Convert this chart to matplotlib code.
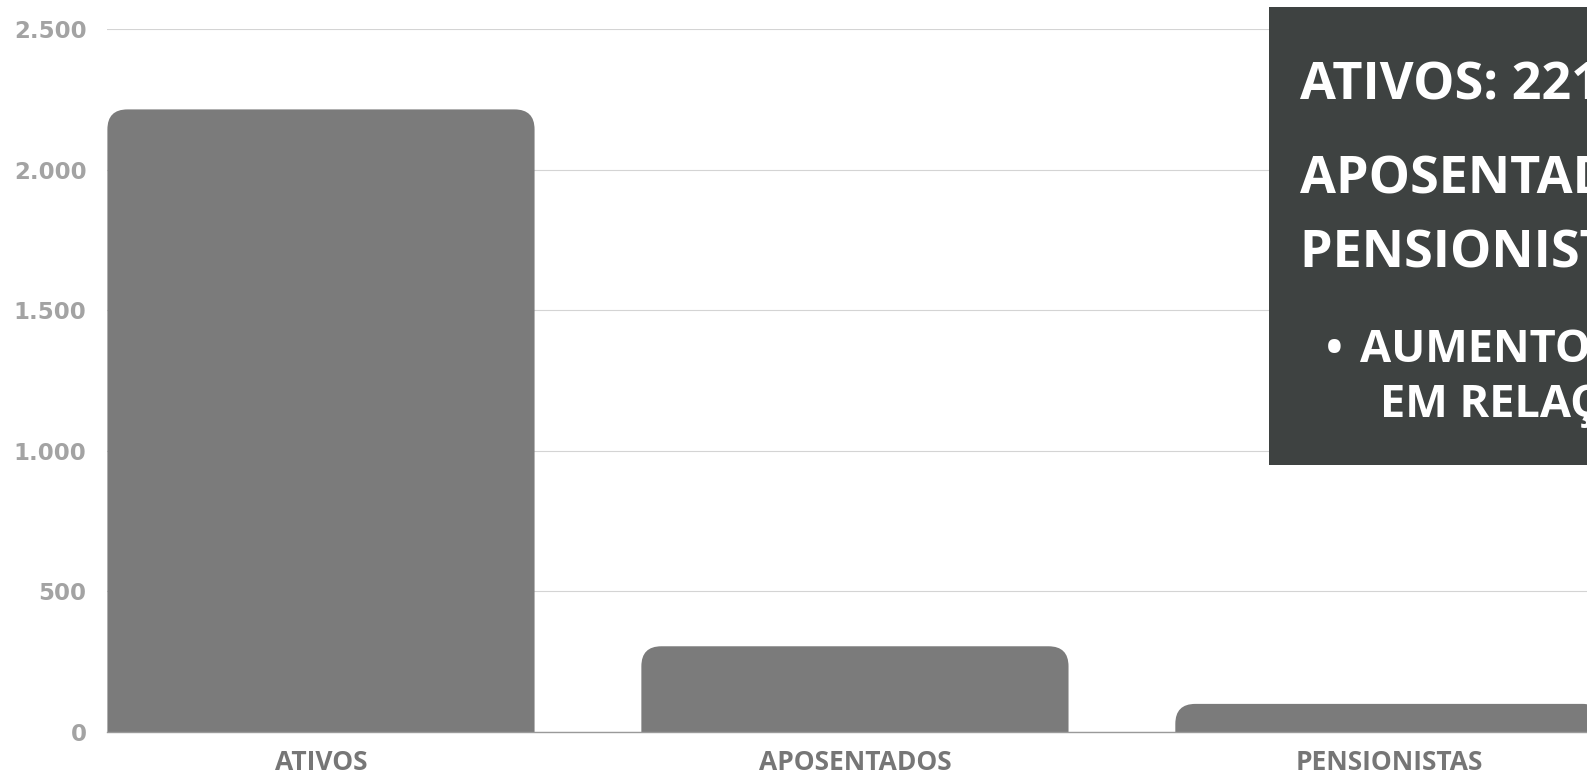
import matplotlib
matplotlib.use("Agg")
import matplotlib.pyplot as plt
from matplotlib.patches import FancyBboxPatch, Rectangle

categories = ["ATIVOS", "APOSENTADOS", "PENSIONISTAS"]
values = [2215, 305, 100]
yticks = [0, 500, 1000, 1500, 2000, 2500]
ytick_labels = ["0", "500", "1.000", "1.500", "2.000", "2.500"]
box_lines = ["ATIVOS: 2215", "APOSENTADOS: 305", "PENSIONISTAS: 100"]
box_bullet = ["AUMENTO DE APOSENTADOS", "EM RELAÇÃO AO ANO ANTERIOR"]

W, H, DPI = 1587, 778, 100
fig = plt.figure(figsize=(W / DPI, H / DPI), dpi=DPI)
fig.patch.set_facecolor("white")

left_px, right_px, top_px, bot_px = 107.4, 1587, 29.3, 732
ax = fig.add_axes([left_px / W, 1 - bot_px / H, (right_px - left_px) / W, (bot_px - top_px) / H])
ax.set_xlim(-0.4, 2.371)
ax.set_ylim(0, 2500)

bar_color = "#7b7b7b"
bars = ax.bar(range(len(categories)), values, width=0.8, color=bar_color, zorder=2)

# rounded top corners
x_per_px = (2.371 + 0.4) / (right_px - left_px)
y_per_px = 2500 / (bot_px - top_px)
aspect = y_per_px / x_per_px
r = 20 * x_per_px
for b in bars:
    x0, w, h = b.get_x(), b.get_width(), b.get_height()
    b.set_visible(False)
    p = FancyBboxPatch((x0, -200), w, h + 200,
                       boxstyle=f"round,pad=0,rounding_size={r}",
                       mutation_aspect=aspect, facecolor=bar_color,
                       edgecolor="none", zorder=2)
    ax.add_patch(p)

ax.set_yticks(yticks)
ax.set_yticklabels(ytick_labels)
ax.set_xticks(range(len(categories)))
ax.set_xticklabels(categories)
ax.grid(axis="y", color="#d4d4d4", linewidth=0.8, zorder=0)
for s in ["top", "right", "left"]:
    ax.spines[s].set_visible(False)
ax.spines["bottom"].set_color("#9a9a9a")
ax.spines["bottom"].set_linewidth(1.0)
ax.spines["bottom"].set_zorder(3)
ax.tick_params(axis="y", length=0, pad=15, labelsize=16.5, labelcolor="#a3a3a3")
ax.tick_params(axis="x", length=0, pad=12, labelsize=19, labelcolor="#767676")
for t in ax.get_yticklabels():
    t.set_fontfamily("DejaVu Sans")
    t.set_fontweight("bold")
for t in ax.get_xticklabels():
    t.set_fontfamily("Open Sans")
    t.set_fontweight("bold")

# dark annotation box
box = Rectangle((1269 / W, 1 - 465 / H), (W - 1269) / W + 0.01, (465 - 7) / H,
                transform=fig.transFigure, facecolor="#3e4241", edgecolor="none", zorder=5)
fig.patches.append(box)

fam = "Open Sans"
big_baselines = [100, 193, 267]
for txt, yb in zip(box_lines, big_baselines):
    fig.text(1300 / W, 1 - yb / H, txt, color="white", fontsize=37.5, fontweight="bold",
             family=fam, va="baseline", ha="left", zorder=6)
fig.text(1326 / W, 1 - 362 / H, "•", color="white", fontsize=32, fontweight="bold",
         family=fam, va="baseline", ha="left", zorder=6)
fig.text(1360 / W, 1 - 362 / H, box_bullet[0], color="white", fontsize=32.5, fontweight="bold",
         family=fam, va="baseline", ha="left", zorder=6)
fig.text(1380 / W, 1 - 417 / H, box_bullet[1], color="white", fontsize=32.5, fontweight="bold",
         family=fam, va="baseline", ha="left", zorder=6)

fig.savefig("out.png", dpi=DPI)
